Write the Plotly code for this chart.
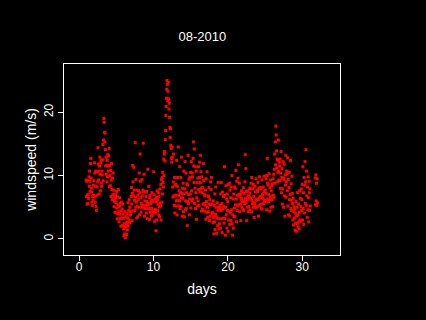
import plotly.graph_objects as go

title_text = "08-2010"
x_label = "days"
y_label = "windspeed (m/s)"
x_ticks = [0, 10, 20, 30]
y_ticks = [0, 10, 20]

start_day = 0.95
step_days = 1.0 / 24.0  # hourly readings

N = None
windspeed = [
    # day 1
    9.3, 6.7, 9.1, 5.5, 6.9, 9.2, 5.6, 7.0, 6.4, 9.8, 8.3, 10.7, 9.1, 7.5, 11.9, 12.7, 9.6, 8.0, 7.4, 5.8, 5.3, 6.7, 6.1, 8.5,
    # day 2
    6.9, 9.2, 6.6, 12.0, 10.4, 5.8, 8.3, 10.7, 5.1, 4.5, 6.9, 8.2, 10.6, 9.0, 14.4, 11.8, 9.3, 10.7, 7.1, 11.5, 12.9, 10.2, 7.6, 12.0,
    # day 3
    12.4, 8.8, 8.3, 10.7, 10.1, 12.5, 14.9, 9.2, 15.6, 19.0, 18.4, 16.8, 15.3, 16.7, 14.1, 11.5, 12.9, 10.2, 11.6, 9.0, 12.4, 9.8, 13.3, 10.7,
    # day 4
    13.1, 11.5, 14.3, 8.2, 11.6, 10.0, 8.4, 10.8, 6.7, 9.3, 11.9, 7.8, 6.2, 9.6, 7.0, 10.4, 6.3, 7.7, 5.1, 6.5, 5.9, 4.2, 6.6, 7.0,
    # day 5
    5.7, 4.1, 7.5, 4.9, 3.2, 6.6, 4.0, 5.4, 7.8, 4.3, 2.7, 5.1, 6.5, 3.9, 3.2, 5.6, 2.0, 4.4, 5.8, 3.3, 4.7, 2.1, 5.5, 3.9,
    # day 6
    3.2, 1.6, 0.5, 2.4, 0.8, 4.3, 0.2, 2.1, 3.5, 1.9, 0.7, 2.6, 4.0, 1.4, 3.3, 5.7, 2.1, 4.5, 2.9, 6.2, 2.6, 5.0, 4.4, 3.8,
    # day 7
    4.3, 6.7, 8.1, 5.5, 2.9, 7.2, 11.6, 9.0, 4.4, 6.8, 11.3, 7.7, 6.1, 4.5, 15.2, 6.6, 5.0, 9.4, 5.8, 3.3, 7.7, 5.1, 3.5, 6.9,
    # day 8
    6.2, 7.6, 5.0, 10.4, 3.8, 7.3, 13.4, 9.1, 6.5, 4.2, 5.6, 5.0, 9.4, 6.8, 5.3, 7.7, 15.1, 7.5, 4.9, 10.2, 3.6, 6.0, 7.4, 4.8,
    # day 9
    5.3, 6.7, 4.1, 7.5, 5.9, 3.2, 5.6, 11.0, 5.4, 4.8, 8.3, 4.7, 3.1, 6.5, 6.9, 4.2, 5.6, 6.0, 3.6, 4.8, 7.3, 3.7, 6.1, 4.5,
    # day 10
    5.9, 4.2, 10.6, 7.0, 4.4, 2.8, 6.3, 4.7, 4.1, 1.3, 5.9, 6.6, 3.0, 7.6, 6.2, 4.5, 5.4, 7.3, 3.8, 6.7, 5.1, 3.5, 7.9, 5.6,
    # day 11
    5.2, 8.6, 3.0, 9.4, 5.8, 9.7, 7.1, 10.5, 8.9, 8.2, 12.6, 10.0, 13.4, 13.8, 12.3, 15.7, 17.1, 19.5, 20.9, 22.2, 23.6, 25.0, 24.4, 21.8,
    # day 12
    23.3, 24.7, 22.1, 20.5, 21.4, 19.2, 17.6, 16.0, 17.4, 14.8, 14.3, 12.7, 12.1, 14.5, 12.9, 8.2, 6.6, 9.0, 13.4, 6.8, 5.3, 9.7, 4.1, 8.5,
    # day 13
    6.9, 5.2, 8.6, 6.0, 12.4, 3.8, 8.3, 9.7, 6.1, 14.5, 6.9, 5.2, 7.6, 6.0, 11.4, 4.8, 7.3, 9.7, 5.1, 6.5, 12.9, 7.2, 3.6, 8.0,
    # day 14
    6.4, 8.8, 4.3, 10.7, 7.1, 3.5, 7.9, 12.2, 4.6, 6.0, 10.4, 4.8, 7.3, 8.7, 2.1, 8.5, 5.9, 13.2, 5.6, 7.0, 9.4, 3.8, 6.3, 9.7,
    # day 15
    7.1, 10.5, 4.9, 12.2, 7.6, 6.0, 10.4, 9.8, 6.3, 12.7, 15.3, 11.5, 8.9, 14.2, 5.6, 8.0, 11.4, 4.8, 7.3, 10.7, 3.1, 6.5, 8.9, 5.2,
    # day 16
    9.6, 6.0, 11.4, 7.8, 5.3, 9.7, 12.1, 7.5, 8.9, 13.2, 10.6, 8.0, 4.4, 9.8, 7.3, 4.7, 8.1, 5.5, 11.9, 9.2, 5.6, 7.0, 4.4, 6.8,
    # day 17
    5.3, 7.7, 3.1, 9.5, 5.9, 4.2, 10.6, 5.0, 3.4, 6.8, 4.3, 6.7, 8.1, 5.5, 2.9, 6.2, 3.6, 9.0, 5.4, 7.8, 9.7, 4.1, 5.5, 3.9,
    # day 18
    4.2, 2.6, 6.0, 3.4, 0.8, 5.3, 2.7, 7.1, 1.5, 3.9, 8.2, 3.6, 5.0, 0.9, 3.3, 5.7, 2.1, 4.5, 8.9, 3.2, 1.6, 5.0, 2.4, 4.8,
    # day 19
    5.3, 1.7, 7.1, 4.5, 8.9, 3.2, 5.6, 1.0, 7.4, 4.8, 3.3, 6.7, 5.1, 2.5, 11.4, 6.9, 3.2, 0.6, 5.0, 8.4, 3.8, 6.3, 1.7, 7.1,
    # day 20
    4.5, 5.9, 1.2, 8.6, 3.0, 4.4, 8.8, 2.3, 7.7, 4.1, 6.5, 2.9, 8.2, 4.6, 10.0, 2.4, 0.6, 3.8, 6.3, 1.7, 7.1, 3.5, 4.9, 8.2,
    # day 21
    3.6, 8.0, 5.4, 10.8, 6.3, 2.7, 9.1, 4.5, 6.9, 5.2, 9.6, 11.7, 7.0, 5.4, 8.8, 4.3, 6.7, 7.1, 5.5, 2.9, 6.2, 7.6, 5.0, 6.4,
    # day 22
    5.8, 7.3, 4.7, 8.1, 4.5, 5.9, 7.2, 5.6, 9.0, 13.3, 6.4, 11.1, 5.7, 7.5, 2.9, 6.2, 7.6, 5.0, 6.8, 4.3, 6.7, 5.1, 6.5, 7.9,
    # day 23
    7.2, 4.6, 8.0, 6.4, 8.8, 4.3, 9.7, 6.1, 5.5, 7.9, 5.8, 8.6, 5.0, 6.7, 3.4, 5.6, 8.3, 5.2, 7.4, 6.1, 9.5, 4.9, 6.3, 7.7,
    # day 24
    5.1, 7.5, 8.9, 6.2, 3.6, 8.0, 6.4, 9.8, 5.3, 6.7, 8.1, 5.5, 7.9, 4.8, 6.6, 9.3, 4.7, 7.0, 6.4, 8.2, 5.6, 7.3, 9.9, 6.0,
    # day 25
    7.4, 5.8, 7.7, 6.1, 9.5, 7.2, 4.6, 10.0, 12.7, 8.8, 6.3, 8.5, 5.9, 7.0, 10.3, 6.2, 4.4, 8.1, 6.7, 9.3, 5.0, 7.6, 6.2, 8.4,
    # day 26
    6.3, 8.7, 5.1, 9.5, 6.9, 10.2, 6.6, 11.0, 13.4, 8.8, 15.3, 11.7, 17.8, 16.4, 13.9, 11.2, 12.6, 9.0, 12.4, 10.5, 15.6, 10.7, 9.3, 12.1,
    # day 27
    11.5, 9.2, 12.6, 8.0, 10.4, 13.8, 7.3, 9.7, 11.1, 5.5, 7.9, 12.2, 9.6, 5.0, 9.4, 11.8, 6.8, 3.6, 10.1, 8.5, 13.2, 6.6, 9.0, 10.7,
    # day 28
    10.3, 7.6, 12.8, 5.2, 9.4, 3.8, 8.1, 10.5, 6.2, 3.6, 7.0, 12.4, 4.8, 8.7, 6.1, 4.5, 9.9, 7.2, 5.6, 3.0, 6.4, 2.2, 4.3, 5.1,
    # day 29
    3.3, 4.7, 1.4, 4.1, 2.5, 5.9, 1.2, 3.6, 5.0, 2.4, 7.3, 3.8, 1.9, 5.5, 2.7, 1.6, 4.2, 7.6, 3.0, 6.4, 2.8, 5.1, 7.9, 4.5,
    # day 30
    6.2, 8.6, 3.0, 11.4, 4.8, 7.3, 2.3, 9.7, 4.1, 8.5, 12.2, 5.6, 9.0, 14.1, 5.3, 10.7, 6.8, 3.4, 8.2, 4.6, 9.8, 6.5, 2.7, 9.1,
    # day 31
    7.3, 4.5, 7.9, 5.2, N, N, N, N, N, N, N, N, N, N, N, N, N, N, N, 9.6, 5.4, 10.1, 6.0, 8.8,
    # day 32
    5.3, 9.5, 5.7,
]

days = [start_day + i * step_days for i in range(len(windspeed))]

fig = go.Figure()
fig.add_trace(go.Scatter(
    x=days, y=windspeed, mode="markers",
    marker=dict(color="#ff0000", size=3, symbol="square", line=dict(width=0)),
    showlegend=False, hoverinfo="skip",
))

fam = "Liberation Sans, Arial, sans-serif"

fig.update_layout(
    width=426, height=320,
    paper_bgcolor="black", plot_bgcolor="black",
    margin=dict(l=64, r=86, t=64, b=65),
    font=dict(family=fam, size=12, color="white"),
    title=dict(text=title_text, x=0.475, xanchor="center", y=0.885, yanchor="middle",
               font=dict(size=13, color="white", family=fam)),
)
fig.update_xaxes(
    range=[-2.03, 35.07], tickvals=x_ticks, ticktext=[str(t) for t in x_ticks],
    showgrid=False, zeroline=False, showline=True, linecolor="white", linewidth=1,
    mirror=True, ticks="outside", ticklen=5, tickcolor="white", tickwidth=1,
    ticklabelstandoff=-4, automargin=False, title=dict(text=x_label, standoff=10),
)
fig.update_yaxes(
    range=[-2.53, 27.6], tickvals=y_ticks, ticktext=[str(t) for t in y_ticks],
    showgrid=False, zeroline=False, showline=True, linecolor="white", linewidth=1,
    mirror=True, ticks="outside", ticklen=5, tickcolor="white", tickwidth=1,
    tickangle=-90, automargin=False, title=dict(text=y_label, standoff=2),
)

fig.write_html("out.html", config={"displayModeBar": False},
               post_script="document.body.style.margin='0';")
